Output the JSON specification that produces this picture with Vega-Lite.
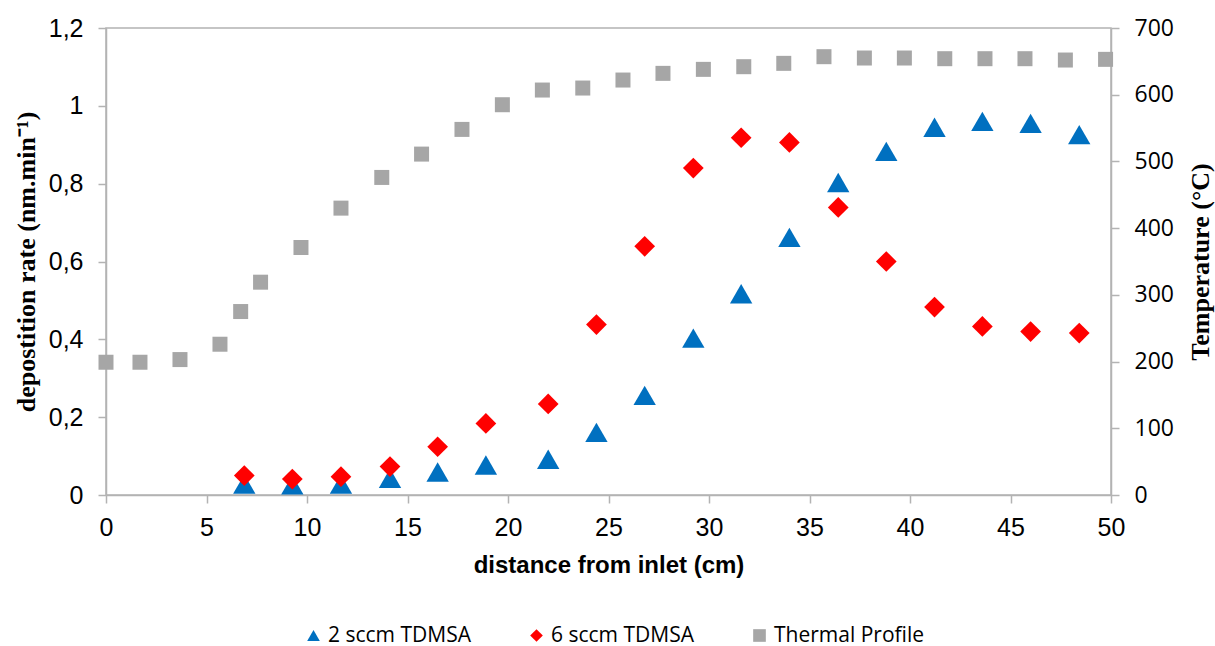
{
  "$schema": "https://vega.github.io/schema/vega-lite/v6.json",
  "width": 1005,
  "height": 467,
  "autosize": {"type": "none"},
  "padding": {"left": 106, "top": 28, "right": 104, "bottom": 151},
  "background": "white",
  "config": {
    "view": {"stroke": "#b3b3b3", "strokeWidth": 1.5},
    "axis": {
      "grid": false,
      "domainColor": "#b3b3b3",
      "domainWidth": 1.5,
      "tickColor": "#b3b3b3",
      "tickWidth": 1.5,
      "tickSize": 8,
      "labelColor": "#000000",
      "titleColor": "#000000"
    }
  },
  "datasets": {
    "deposition": [
      {"series": "2 sccm TDMSA", "distance": 6.88, "rate": 0.028},
      {"series": "2 sccm TDMSA", "distance": 9.27, "rate": 0.026},
      {"series": "2 sccm TDMSA", "distance": 11.69, "rate": 0.028},
      {"series": "2 sccm TDMSA", "distance": 14.13, "rate": 0.043},
      {"series": "2 sccm TDMSA", "distance": 16.5, "rate": 0.059},
      {"series": "2 sccm TDMSA", "distance": 18.9, "rate": 0.077},
      {"series": "2 sccm TDMSA", "distance": 22.0, "rate": 0.092},
      {"series": "2 sccm TDMSA", "distance": 24.4, "rate": 0.161},
      {"series": "2 sccm TDMSA", "distance": 26.8, "rate": 0.256},
      {"series": "2 sccm TDMSA", "distance": 29.22, "rate": 0.403},
      {"series": "2 sccm TDMSA", "distance": 31.6, "rate": 0.517},
      {"series": "2 sccm TDMSA", "distance": 34.0, "rate": 0.662},
      {"series": "2 sccm TDMSA", "distance": 36.43, "rate": 0.803},
      {"series": "2 sccm TDMSA", "distance": 38.82, "rate": 0.883},
      {"series": "2 sccm TDMSA", "distance": 41.22, "rate": 0.945},
      {"series": "2 sccm TDMSA", "distance": 43.6, "rate": 0.96},
      {"series": "2 sccm TDMSA", "distance": 46.0, "rate": 0.955},
      {"series": "2 sccm TDMSA", "distance": 48.42, "rate": 0.926},
      {"series": "6 sccm TDMSA", "distance": 6.88, "rate": 0.05},
      {"series": "6 sccm TDMSA", "distance": 9.27, "rate": 0.041},
      {"series": "6 sccm TDMSA", "distance": 11.69, "rate": 0.047},
      {"series": "6 sccm TDMSA", "distance": 14.13, "rate": 0.073},
      {"series": "6 sccm TDMSA", "distance": 16.5, "rate": 0.124},
      {"series": "6 sccm TDMSA", "distance": 18.9, "rate": 0.184},
      {"series": "6 sccm TDMSA", "distance": 22.0, "rate": 0.234},
      {"series": "6 sccm TDMSA", "distance": 24.4, "rate": 0.438},
      {"series": "6 sccm TDMSA", "distance": 26.8, "rate": 0.639},
      {"series": "6 sccm TDMSA", "distance": 29.22, "rate": 0.84},
      {"series": "6 sccm TDMSA", "distance": 31.6, "rate": 0.918},
      {"series": "6 sccm TDMSA", "distance": 34.0, "rate": 0.906},
      {"series": "6 sccm TDMSA", "distance": 36.43, "rate": 0.739},
      {"series": "6 sccm TDMSA", "distance": 38.82, "rate": 0.6},
      {"series": "6 sccm TDMSA", "distance": 41.22, "rate": 0.483},
      {"series": "6 sccm TDMSA", "distance": 43.6, "rate": 0.433},
      {"series": "6 sccm TDMSA", "distance": 46.0, "rate": 0.42},
      {"series": "6 sccm TDMSA", "distance": 48.42, "rate": 0.416}
    ],
    "thermal": [
      {"series": "Thermal Profile", "distance": 0, "temperature": 199},
      {"series": "Thermal Profile", "distance": 1.69, "temperature": 199},
      {"series": "Thermal Profile", "distance": 3.68, "temperature": 203},
      {"series": "Thermal Profile", "distance": 5.67, "temperature": 226},
      {"series": "Thermal Profile", "distance": 6.7, "temperature": 275},
      {"series": "Thermal Profile", "distance": 7.69, "temperature": 319},
      {"series": "Thermal Profile", "distance": 9.7, "temperature": 371},
      {"series": "Thermal Profile", "distance": 11.69, "temperature": 430},
      {"series": "Thermal Profile", "distance": 13.72, "temperature": 476},
      {"series": "Thermal Profile", "distance": 15.7, "temperature": 511},
      {"series": "Thermal Profile", "distance": 17.71, "temperature": 548},
      {"series": "Thermal Profile", "distance": 19.72, "temperature": 585},
      {"series": "Thermal Profile", "distance": 21.71, "temperature": 607},
      {"series": "Thermal Profile", "distance": 23.72, "temperature": 610},
      {"series": "Thermal Profile", "distance": 25.72, "temperature": 622},
      {"series": "Thermal Profile", "distance": 27.71, "temperature": 632},
      {"series": "Thermal Profile", "distance": 29.72, "temperature": 638},
      {"series": "Thermal Profile", "distance": 31.73, "temperature": 642},
      {"series": "Thermal Profile", "distance": 33.72, "temperature": 647},
      {"series": "Thermal Profile", "distance": 35.72, "temperature": 657},
      {"series": "Thermal Profile", "distance": 37.73, "temperature": 655},
      {"series": "Thermal Profile", "distance": 39.72, "temperature": 655},
      {"series": "Thermal Profile", "distance": 41.73, "temperature": 654},
      {"series": "Thermal Profile", "distance": 43.73, "temperature": 654},
      {"series": "Thermal Profile", "distance": 45.72, "temperature": 654},
      {"series": "Thermal Profile", "distance": 47.73, "temperature": 652},
      {"series": "Thermal Profile", "distance": 49.73, "temperature": 653}
    ]
  },
  "encoding": {
    "x": {
      "field": "distance",
      "type": "quantitative",
      "scale": {"domain": [0, 50], "nice": false, "zero": false},
      "axis": {
        "values": [0, 5, 10, 15, 20, 25, 30, 35, 40, 45, 50],
        "title": "distance from inlet (cm)",
        "labelFont": "Liberation Sans",
        "labelFontSize": 25,
        "labelPadding": 12,
        "labelFlush": false,
        "labelOverlap": false,
        "titleFont": "Liberation Sans",
        "titleFontWeight": "bold",
        "titleFontSize": 24,
        "titlePadding": 13
      }
    },
    "color": {
      "field": "series",
      "type": "nominal",
      "scale": {
        "domain": ["2 sccm TDMSA", "6 sccm TDMSA", "Thermal Profile"],
        "range": ["#0070C0", "#FF0000", "#A6A6A6"]
      },
      "legend": {
        "title": null,
        "orient": "none",
        "direction": "horizontal",
        "legendX": 197,
        "legendY": 597,
        "labelFont": "Open Sans",
        "labelFontSize": 21,
        "labelColor": "#000000",
        "symbolSize": 160,
        "symbolStrokeWidth": 0,
        "gridAlign": "none",
        "columnPadding": 55,
        "labelOffset": 4,
        "padding": 0
      }
    },
    "shape": {
      "field": "series",
      "type": "nominal",
      "scale": {
        "domain": ["2 sccm TDMSA", "6 sccm TDMSA", "Thermal Profile"],
        "range": ["triangle-up", "diamond", "square"]
      },
      "legend": {
        "title": null,
        "orient": "none",
        "direction": "horizontal",
        "legendX": 197,
        "legendY": 597,
        "labelFont": "Open Sans",
        "labelFontSize": 21,
        "labelColor": "#000000",
        "symbolSize": 160,
        "symbolStrokeWidth": 0,
        "gridAlign": "none",
        "columnPadding": 55,
        "labelOffset": 4,
        "padding": 0
      }
    }
  },
  "layer": [
    {
      "data": {"name": "deposition"},
      "encoding": {
        "y": {
          "field": "rate",
          "type": "quantitative",
          "scale": {"domain": [0, 1.2], "nice": false},
          "axis": {
            "orient": "left",
            "values": [0, 0.2, 0.4, 0.6, 0.8, 1, 1.2],
            "labelExpr": "replace(format(datum.value, '~g'), '.', ',')",
            "title": "depostition rate (nm.min⁻¹)",
            "labelFont": "Liberation Sans",
            "labelFontSize": 25,
            "labelPadding": 15,
            "titleFont": "Liberation Serif",
            "titleFontWeight": "bold",
            "titleFontSize": 26,
            "titlePadding": 9
          }
        }
      },
      "layer": [
        {
          "transform": [{"filter": "datum.series === '2 sccm TDMSA'"}],
          "mark": {"type": "point", "filled": true, "opacity": 1, "size": 500}
        },
        {
          "transform": [{"filter": "datum.series === '6 sccm TDMSA'"}],
          "mark": {"type": "point", "filled": true, "opacity": 1, "size": 430}
        }
      ]
    },
    {
      "data": {"name": "thermal"},
      "mark": {"type": "point", "filled": true, "opacity": 1, "size": 225},
      "encoding": {
        "y": {
          "field": "temperature",
          "type": "quantitative",
          "scale": {"domain": [0, 700], "nice": false},
          "axis": {
            "orient": "right",
            "values": [0, 100, 200, 300, 400, 500, 600, 700],
            "title": "Temperature (°C)",
            "labelFont": "Open Sans",
            "labelFontSize": 23,
            "labelPadding": 15,
            "titleFont": "Liberation Serif",
            "titleFontWeight": "bold",
            "titleFontSize": 26,
            "titlePadding": 14,
            "titleAngle": 270,
            "titleBaseline": "top"
          }
        }
      }
    }
  ],
  "resolve": {"scale": {"y": "independent"}}
}
